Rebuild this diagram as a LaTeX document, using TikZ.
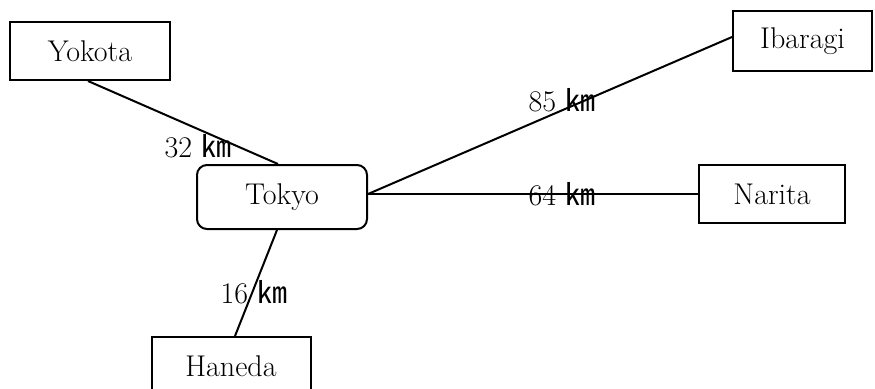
\documentclass[tikz,border=0pt]{standalone}
\usepackage{fontspec}
\newfontfamily\jpfont{Noto Sans CJK JP}
\newcommand{\kmunit}{{\jpfont ㎞}}
\tikzset{
  place/.style={draw, line width=1pt, inner sep=0pt, font=\fontsize{15}{17}\selectfont},
  hub/.style={place, rounded corners=5pt},
  road/.style={line width=1pt},
  dist/.style={inner sep=0pt, font=\fontsize{15}{17}\selectfont}
}
\begin{document}
\begin{tikzpicture}[x=0.5pt, y=-0.5pt]
\clip (0,0) rectangle (875,388);
\node[place, minimum width=80pt, minimum height=29pt] (yokota) at (90,51) {Yokota};
\node[hub, minimum width=85pt, minimum height=32pt] (tokyo) at (282,197) {Tokyo};
\node[place, minimum width=69.5pt, minimum height=30pt] (ibaragi) at (802.5,41) {Ibaragi};
\node[place, minimum width=73pt, minimum height=29pt] (narita) at (772,194) {Narita};
\node[place, minimum width=79.5pt, minimum height=29pt] (haneda) at (231,366) {Haneda};
\draw[road] ([xshift=-1pt]yokota.south) -- ([xshift=-2pt]tokyo.north);
\draw[road] ([yshift=1.5pt]tokyo.east) -- ([yshift=2pt]ibaragi.west);
\draw[road] ([yshift=1.5pt]tokyo.east) -- (narita.west);
\draw[road] ([xshift=-2.5pt]tokyo.south) -- ([xshift=2pt]haneda.north);
\node[dist] (l32) at (198,146) {32 \kmunit};
\node[dist] (l85) at (562,100) {85 \kmunit};
\node[dist] (l64) at (562,194) {64 \kmunit};
\node[dist] (l16) at (254,292) {16 \kmunit};
\end{tikzpicture}
\end{document}
